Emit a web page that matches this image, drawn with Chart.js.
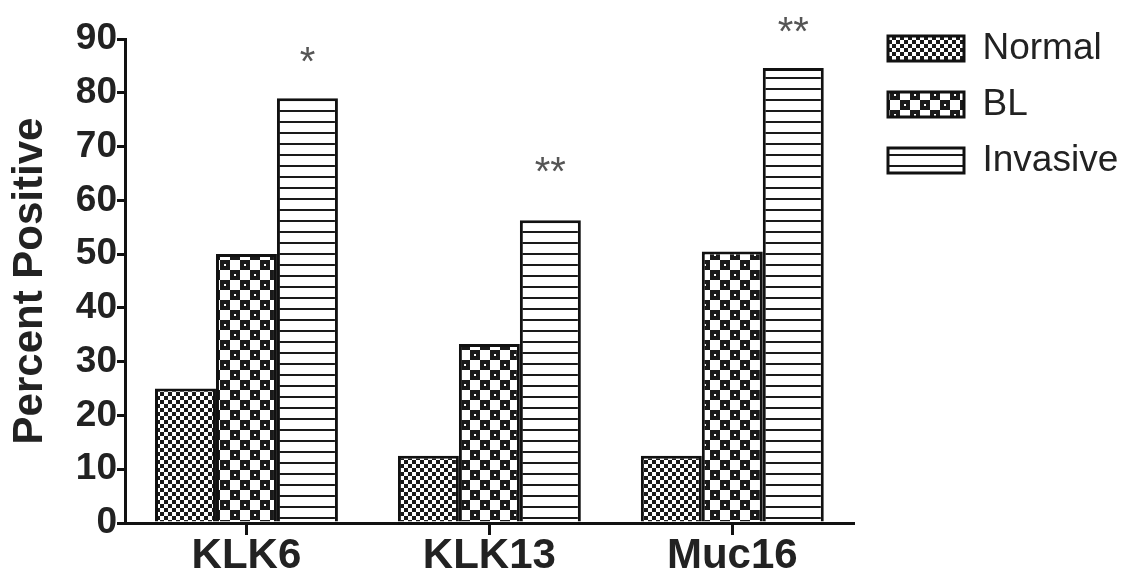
<!DOCTYPE html>
<html>
<head>
<meta charset="utf-8">
<script src="https://cdn.jsdelivr.net/npm/chart.js@4.4.0/dist/chart.umd.min.js"></script>
<style>
  html, body { margin: 0; padding: 0; background: #fff; }
</style>
</head>
<body>
<canvas id="chart" width="1125" height="577"></canvas>
<script>
const categories = ['KLK6', 'KLK13', 'Muc16'];
const normalValues = [25, 12.5, 12.5];
const blValues = [50, 33.3, 50.5];
const invasiveValues = [79, 56.3, 84.6];
const sigMarks = ['*', '**', '**'];
const sigLevels = [86.8, 66.4, 92.4];

const FONT = '"Liberation Sans", Arial, sans-serif';
Chart.defaults.font.family = FONT;

// little tiles for the hatch fills
function makePattern(w, h, draw) {
  const c = document.createElement('canvas');
  c.width = w;
  c.height = h;
  const g = c.getContext('2d');
  g.fillStyle = '#fff';
  g.fillRect(0, 0, w, h);
  g.fillStyle = '#1a1a1a';
  draw(g);
  return g.createPattern(c, 'repeat');
}

const fineCheck = makePattern(8, 8, g => {
  g.fillRect(0, 0, 4, 4);
  g.fillRect(4, 4, 4, 4);
});
const coarseCheck = makePattern(20, 20, g => {
  g.fillRect(0, 0, 10, 10);
  g.fillRect(10, 10, 10, 10);
  g.fillStyle = '#fff';
  g.fillRect(4, 4, 2, 2);
  g.fillRect(14, 14, 2, 2);
});
const hLines = makePattern(10, 11, g => {
  g.fillRect(0, 0, 10, 2);
});

// stars over the invasive bars
const sigPlugin = {
  id: 'sigMarks',
  afterDatasetsDraw(chart) {
    const meta = chart.getDatasetMeta(2);
    const y = chart.scales.y;
    const ctx = chart.ctx;
    ctx.save();
    ctx.font = '40px ' + FONT;
    ctx.fillStyle = '#555';
    ctx.textAlign = 'center';
    ctx.textBaseline = 'alphabetic';
    meta.data.forEach((bar, i) => {
      ctx.fillText(sigMarks[i], bar.x, y.getPixelForValue(sigLevels[i]) + 19);
    });
    ctx.restore();
  }
};

// put the legend where it sits in the figure
const legendPlace = {
  id: 'legendPlace',
  afterLayout(chart) {
    const lg = chart.legend;
    const dx = 869 - lg.left;
    const dy = 11 - lg.top;
    lg.left += dx; lg.right += dx;
    lg.top += dy; lg.bottom += dy;
  }
};

new Chart(document.getElementById('chart'), {
  type: 'bar',
  data: {
    labels: categories,
    datasets: [
      { label: 'Normal', data: normalValues, backgroundColor: fineCheck },
      { label: 'BL', data: blValues, backgroundColor: coarseCheck },
      { label: 'Invasive', data: invasiveValues, backgroundColor: hLines }
    ].map(d => Object.assign(d, {
      borderColor: '#111',
      borderWidth: 3,
      barPercentage: 1,
      categoryPercentage: 0.753
    }))
  },
  options: {
    responsive: false,
    animation: false,
    layout: { padding: { left: 0, right: 12, top: 39, bottom: 0 } },
    plugins: {
      legend: {
        position: 'right',
        align: 'start',
        labels: {
          boxWidth: 76,
          boxHeight: 25,
          padding: 19,
          color: '#222',
          font: { size: 37 }
        }
      },
      tooltip: { enabled: false }
    },
    scales: {
      x: {
        grid: { drawOnChartArea: false, offset: false, color: '#111', lineWidth: 3, tickLength: 12 },
        border: { color: '#111', width: 3 },
        ticks: { color: '#222', padding: 0, font: { size: 42, weight: 'bold', lineHeight: 1 } }
      },
      y: {
        min: 0,
        max: 90,
        afterFit: s => { s.width = 125; },
        grid: { drawOnChartArea: false, color: '#111', lineWidth: 3, tickLength: 8 },
        border: { color: '#111', width: 3 },
        ticks: { stepSize: 10, color: '#222', padding: 0, font: { size: 37, weight: 'bold' } },
        title: {
          display: true,
          text: 'Percent Positive',
          color: '#222',
          padding: { top: 5, bottom: 0 },
          font: { size: 42, weight: 'bold' }
        }
      }
    }
  },
  plugins: [sigPlugin, legendPlace]
});
</script>
</body>
</html>
